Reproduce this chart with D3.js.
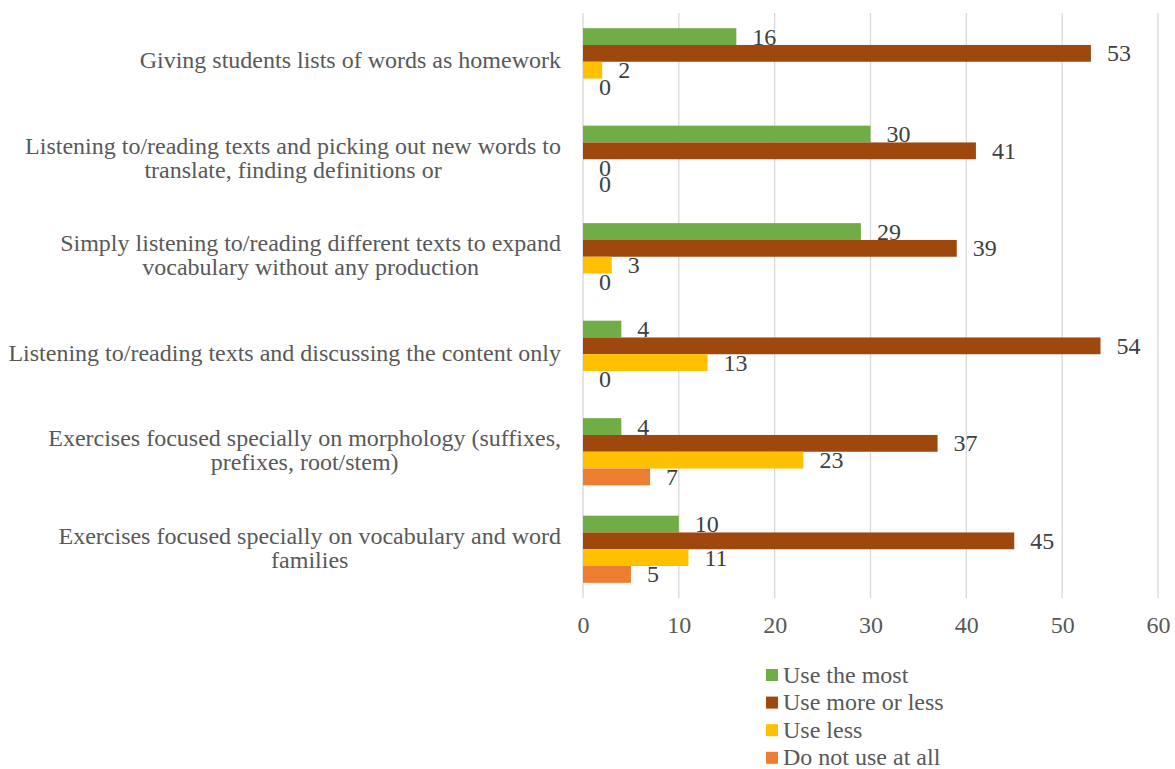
<!DOCTYPE html>
<html>
<head>
<meta charset="utf-8">
<script src="https://cdn.jsdelivr.net/npm/d3@7"></script>
<style>
  html, body { margin: 0; padding: 0; background: #ffffff; }
  svg { display: block; }
  text { font-family: "Liberation Serif", "Times New Roman", serif; }
</style>
</head>
<body>
<svg id="chart" width="1175" height="769"></svg>
<script>
// Teaching techniques (one entry per line of the wrapped label)
const categories = [
  ["Giving students lists of words as homework"],
  ["Listening to/reading texts and picking out new words to", "translate, finding definitions or"],
  ["Simply listening to/reading different texts to expand", "vocabulary without any production"],
  ["Listening to/reading texts and discussing the content only"],
  ["Exercises focused specially on morphology (suffixes,", "prefixes, root/stem)"],
  ["Exercises focused specially on vocabulary and word", "families"]
];

// Responses per technique
const seriesNames = ["Use the most", "Use more or less", "Use less", "Do not use at all"];
const useTheMost     = [16, 30, 29, 4, 4, 10];
const useMoreOrLess  = [53, 41, 39, 54, 37, 45];
const useLess        = [2, 0, 3, 13, 23, 11];
const doNotUseAtAll  = [0, 0, 0, 0, 7, 5];
const seriesColors = ["#70AD47", "#9E480E", "#FFC000", "#ED7D31"];

const xTicks = [0, 10, 20, 30, 40, 50, 60];

const seriesValues = [useTheMost, useMoreOrLess, useLess, doNotUseAtAll];
const rows = categories.map((lines, i) => ({
  key: i,
  lines,
  values: seriesValues.map((vals, s) => ({ series: s, value: vals[i] }))
}));

const svg = d3.select("#chart");

const plot = { left: 583, right: 1158, top: 13, bottom: 598 };

const x = d3.scaleLinear().domain([0, 60]).range([plot.left, plot.right]);

const y = d3.scaleBand()
  .domain(rows.map(d => d.key))
  .range([plot.top, plot.bottom])
  .paddingInner(0.311)
  .paddingOuter(0.1555);

const ySeries = d3.scaleBand()
  .domain(d3.range(seriesNames.length))
  .range([0, y.bandwidth()])
  .padding(0);

// Vertical gridlines
svg.append("g")
  .selectAll("line")
  .data(xTicks)
  .join("line")
  .attr("x1", d => x(d)).attr("x2", d => x(d))
  .attr("y1", plot.top).attr("y2", plot.bottom)
  .attr("stroke", "#D9D9D9")
  .attr("stroke-width", 1.3);

// X axis tick labels
const xAxis = d3.axisBottom(x).tickValues(xTicks).tickSize(0).tickPadding(0);
const gx = svg.append("g")
  .attr("transform", `translate(0, ${plot.bottom})`)
  .call(xAxis);
gx.select(".domain").remove();
gx.selectAll("text")
  .attr("y", 35)
  .attr("dy", null)
  .attr("fill", "#595959")
  .attr("font-size", 24)
  .style("font-family", "'Liberation Serif', 'Times New Roman', serif");

// Bars
const groups = svg.append("g")
  .selectAll("g")
  .data(rows)
  .join("g")
  .attr("transform", d => `translate(0, ${y(d.key)})`);

groups.selectAll("rect")
  .data(d => d.values)
  .join("rect")
  .attr("x", x(0))
  .attr("y", d => ySeries(d.series))
  .attr("width", d => x(d.value) - x(0))
  .attr("height", ySeries.bandwidth())
  .attr("fill", d => seriesColors[d.series]);

// Value labels, drawn over all bars
const labelLayer = svg.append("g");
rows.forEach(row => {
  labelLayer.selectAll(null)
    .data(row.values)
    .join("text")
    .attr("x", d => x(d.value) + 16)
    .attr("y", d => y(row.key) + ySeries(d.series) + ySeries.bandwidth() / 2 + 8)
    .attr("font-size", 24)
    .attr("fill", "#404040")
    .text(d => d.value);
});

// Category labels: block right-aligned to the axis, lines centred within the block
const lineGap = 24.4;
const catLayer = svg.append("g");
rows.forEach(row => {
  const cy = y(row.key) + y.bandwidth() / 2;
  const n = row.lines.length;
  const texts = row.lines.map((line, i) =>
    catLayer.append("text")
      .attr("font-size", 24)
      .attr("fill", "#595959")
      .attr("text-anchor", "middle")
      .attr("y", cy + (i - (n - 1) / 2) * lineGap + 6.5)
      .text(line)
  );
  const maxW = d3.max(texts, t => t.node().getComputedTextLength());
  const cx = 561 - maxW / 2;
  texts.forEach(t => t.attr("x", cx));
});

// Legend
const legend = svg.append("g")
  .selectAll("g")
  .data(seriesNames)
  .join("g")
  .attr("transform", (d, i) => `translate(766, ${669 + i * 27.6})`);

legend.append("rect")
  .attr("width", 12).attr("height", 12)
  .attr("fill", (d, i) => seriesColors[i]);

legend.append("text")
  .attr("x", 17)
  .attr("y", 13.5)
  .attr("font-size", 24)
  .attr("fill", "#595959")
  .text(d => d);
</script>
</body>
</html>
